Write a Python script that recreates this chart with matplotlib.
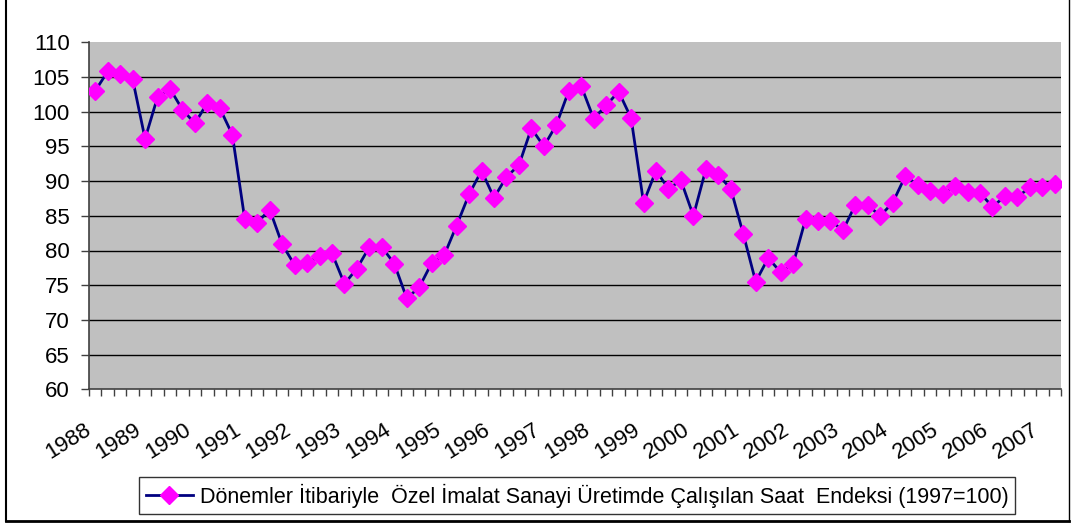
import matplotlib
matplotlib.use("Agg")
import matplotlib.pyplot as plt
from matplotlib.lines import Line2D
from matplotlib.transforms import ScaledTranslation, blended_transform_factory

plt.rcParams['font.family'] = ['Liberation Sans', 'DejaVu Sans']

years = [str(y) for y in range(1988, 2008)]
values = [103.0, 105.8, 105.5, 104.7, 96.1, 102.1, 103.3, 100.3, 98.3, 101.3,
          100.5, 96.7, 84.5, 84.0, 85.9, 80.9, 77.9, 78.2, 79.2, 79.6,
          75.2, 77.4, 80.5, 80.5, 78.1, 73.1, 74.7, 78.2, 79.3, 83.6,
          88.1, 91.5, 87.6, 90.6, 92.3, 97.6, 95.0, 98.1, 103.0, 103.7,
          99.0, 100.9, 102.9, 99.1, 86.9, 91.5, 88.9, 90.1, 85.0, 91.7,
          90.9, 88.9, 82.4, 75.5, 78.9, 76.9, 78.0, 84.5, 84.2, 84.3,
          82.9, 86.6, 86.5, 85.0, 86.9, 90.7, 89.5, 88.6, 88.2, 89.3,
          88.5, 88.3, 86.3, 87.8, 87.7, 89.1, 89.2, 89.6]
series_label = "Dönemler İtibariyle  Özel İmalat Sanayi Üretimde Çalışılan Saat  Endeksi (1997=100)"
yticks = list(range(60, 111, 5))

W, H = 1074, 529
fig = plt.figure(figsize=(W / 100, H / 100), dpi=100)
fig.patch.set_facecolor('white')

left, right, top, bottom = 89, 1061, 42.3, 389.3
ax = fig.add_axes([left / W, 1 - bottom / H, (right - left) / W, (bottom - top) / H])
ax.set_facecolor('#C0C0C0')

n = len(values)
x = list(range(n))
ax.plot(x, values, color='#000080', lw=2.0, marker='D', markersize=9.5,
        markerfacecolor='#FF00FF', markeredgecolor='#FF00FF', zorder=3)

ax.set_xlim(-0.5, n - 0.5)
ax.set_ylim(60, 110)

for yv in yticks[1:-1]:
    ax.axhline(yv, color='black', lw=1.0, zorder=1)

ax.set_yticks(yticks)
ax.set_yticklabels([str(v) for v in yticks], fontsize=16)
ax.tick_params(axis='y', direction='out', length=5.5, width=1, color='#404040', pad=8.5)

ax.set_xticks([i - 0.5 for i in range(n + 1)])
ax.set_xticklabels([])
ax.tick_params(axis='x', direction='out', length=5, width=1, color='#404040')

for s in ['top', 'right']:
    ax.spines[s].set_visible(False)
ax.spines['left'].set_color('#404040')
ax.spines['bottom'].set_color('#404040')
ax.spines['left'].set_linewidth(1.2)
ax.spines['bottom'].set_linewidth(1.2)

trans = blended_transform_factory(ax.transData, ax.transAxes)
off = ScaledTranslation(-11 / 100, -30 / 100, fig.dpi_scale_trans)
for k, yr in enumerate(years):
    ax.text(4 * k, 0, yr, transform=trans + off, rotation=32, ha='right', va='top',
            rotation_mode='anchor', fontsize=16)

handle = Line2D([], [], color='#000080', lw=2.0, marker='D', markersize=9.5,
                markerfacecolor='#FF00FF', markeredgecolor='#FF00FF')
leg = fig.legend([handle], [series_label], loc='center', bbox_to_anchor=(577 / W, 1 - 495.5 / H),
                 fontsize=15.5, frameon=True, fancybox=False, handlelength=2.2,
                 handletextpad=0.3, borderpad=0.3)
leg.get_frame().set_edgecolor('black')
leg.get_frame().set_linewidth(1.0)

# outer chart border
fig.add_artist(Line2D([6 / W, 6 / W], [1 - 521 / H, 1.0], color='black', lw=1.5))
fig.add_artist(Line2D([6 / W, 1069 / W], [1 - 521 / H, 1 - 521 / H], color='black', lw=2.0))
fig.add_artist(Line2D([1069 / W, 1069 / W], [1 - 521 / H, 1.0], color='black', lw=1.0))

fig.savefig('out.png', dpi=100)
